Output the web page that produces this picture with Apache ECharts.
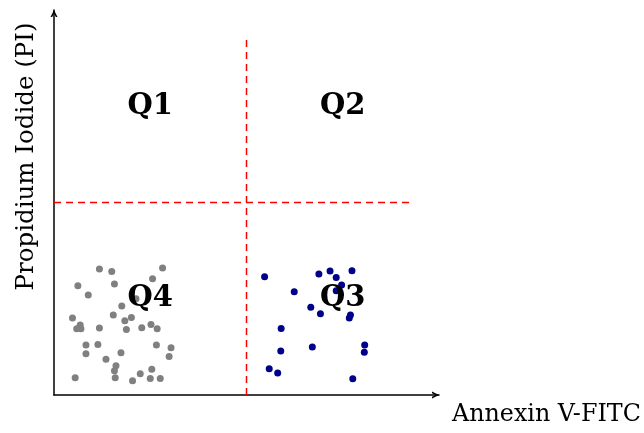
<!DOCTYPE html>
<html>
<head>
<meta charset="utf-8">
<script src="https://cdn.jsdelivr.net/npm/echarts@6/dist/echarts.min.js"></script>
<style>
html,body{margin:0;padding:0;background:#fff;}
#chart{width:644px;height:433px;}
</style>
</head>
<body>
<div id="chart"></div>
<script>
// Live cells (Q4) - gray
const liveX = [1.18,1.50,2.82,0.62,1.57,2.56,0.89,2.13,1.76,1.54,2.01,1.84,0.48,0.68,0.59,0.70,1.18,1.88,2.28,2.52,2.68,0.83,1.14,2.66,3.04,0.83,1.74,1.35,2.99,1.61,1.57,2.54,0.55,1.59,2.04,2.24,2.50,2.76];
const liveY = [3.27,3.21,3.30,2.84,2.88,3.02,2.60,2.50,2.31,2.08,2.01,1.93,2.00,1.82,1.72,1.72,1.74,1.70,1.75,1.83,1.72,1.30,1.31,1.30,1.23,1.07,1.10,0.93,1.00,0.76,0.63,0.67,0.45,0.45,0.37,0.55,0.43,0.43];
// Early apoptotic cells (Q3) - blue
const earlyX = [5.47,6.88,7.17,7.33,7.74,7.47,6.24,7.33,6.67,6.92,7.70,7.67,5.90,6.71,8.07,8.06,5.89,5.59,5.81,7.76];
const earlyY = [3.07,3.14,3.22,3.05,3.23,2.86,2.68,2.71,2.28,2.11,2.08,2.00,1.73,1.25,1.30,1.11,1.14,0.68,0.57,0.42];
// Quadrant labels
const quadLabels = ['Q1','Q2','Q3','Q4'];
const quadX = [2.5,7.5,7.5,2.5];
const quadY = [7.5,7.5,2.5,2.5];
// Gate thresholds
const gateX = 5, gateY = 5, gateEnd = 9.22;
const xAxisName = 'Annexin V-FITC';
const yAxisName = 'Propidium Iodide (PI)';

const zip = (a,b) => a.map((v,i)=>[v,b[i]]);
const chevron = 'path://M0,10 L5,0 L10,10 L7.6,10 L5,4.6 L2.4,10 Z';
const font = 'DejaVu Serif';

const chart = echarts.init(document.getElementById('chart'));
chart.setOption({
  animation:false,
  backgroundColor:'#fff',
  grid:{left:54, top:10, width:385, height:385, containLabel:false, outerBoundsMode:'none'},
  xAxis:{
    type:'value', min:0, max:10,
    axisLine:{show:true, onZero:false, lineStyle:{color:'#000', width:1.5}, symbol:['none', chevron], symbolSize:[11,7], symbolOffset:[0,-3.5]},
    axisTick:{show:false}, axisLabel:{show:false}, splitLine:{show:false},
    name:xAxisName, nameLocation:'end', nameGap:13,
    nameTextStyle:{fontFamily:font, fontSize:23.8, color:'#000', verticalAlign:'top', padding:[8,0,0,0]}
  },
  yAxis:{
    type:'value', min:0, max:10,
    axisLine:{show:true, onZero:false, lineStyle:{color:'#000', width:1.5}, symbol:['none', chevron], symbolSize:[11,7], symbolOffset:[0,-3.5]},
    axisTick:{show:false}, axisLabel:{show:false}, splitLine:{show:false},
    name:yAxisName, nameLocation:'middle', nameGap:15,
    nameTextStyle:{fontFamily:font, fontSize:24.5, color:'#000', padding:[0,0,0,92]}
  },
  series:[
    {type:'line', data:[[gateX,0],[gateX,gateEnd]], symbol:'none', lineStyle:{color:'#ff0000', width:1.5, type:[7,5]}, z:1},
    {type:'line', data:[[0,gateY],[gateEnd,gateY]], symbol:'none', lineStyle:{color:'#ff0000', width:1.5, type:[7,5]}, z:1},
    {type:'scatter', data:zip(liveX,liveY), symbolSize:7, itemStyle:{color:'#808080', opacity:1}, z:2},
    {type:'scatter', data:zip(earlyX,earlyY), symbolSize:7, itemStyle:{color:'#00008b', opacity:1}, z:2},
    {type:'scatter', data:quadLabels.map((n,i)=>({name:n, value:[quadX[i],quadY[i]]})), symbolSize:0, z:5,
     itemStyle:{opacity:1},
     label:{show:true, position:'inside', formatter:'{b}', fontFamily:font, fontWeight:'bold', fontSize:29, color:'#000', textBorderWidth:0}}
  ]
});
</script>
</body>
</html>
